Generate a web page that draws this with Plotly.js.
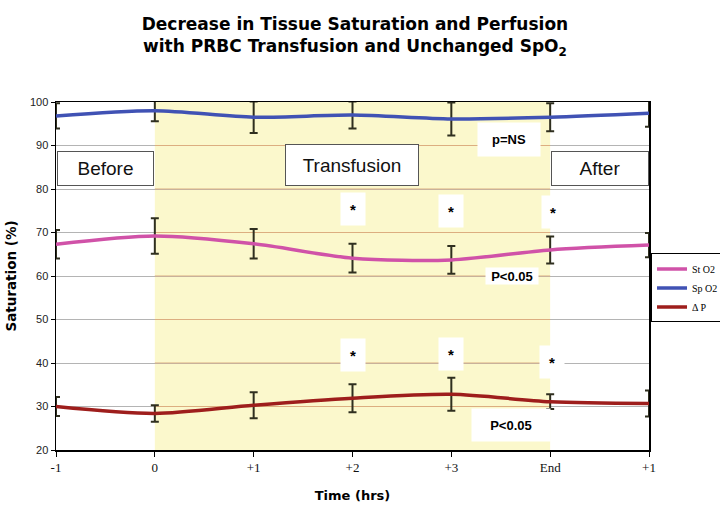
<!DOCTYPE html>
<html>
<head>
<meta charset="utf-8">
<script src="https://cdn.plot.ly/plotly-3.0.1.min.js"></script>
<style>html,body{margin:0;padding:0;background:#fff;}#chart{width:720px;height:518px;}</style>
</head>
<body>
<div id="chart"></div>
<script>
// Time points (category index) and their tick labels
const timeIndex = [0, 1, 2, 3, 4, 5, 6];
const timeLabels = ["-1", "0", "+1", "+2", "+3", "End", "+1"];

// Series values (%)
const stO2 = [67.3, 69.2, 67.4, 64.1, 63.7, 66.0, 67.1];
const stO2Err = [3.3, 4.1, 3.4, 3.3, 3.2, 3.1, 2.8];
const spO2 = [96.8, 98.0, 96.5, 97.0, 96.1, 96.5, 97.4];
const spO2Err = [2.9, 2.4, 3.6, 3.1, 3.8, 3.2, 3.1];
const deltaP = [30.0, 28.4, 30.3, 31.9, 32.8, 31.1, 30.7];
const deltaPErr = [2.2, 1.9, 3.0, 3.2, 3.8, 1.7, 3.0];

const yTicks = [20, 30, 40, 50, 60, 70, 80, 90, 100];
const gridValues = [30, 40, 50, 60, 70, 80, 90];

const errColor = "#2f2f1f";
function series(name, y, err, color) {
  return {
    type: "scatter", mode: "lines", name: name,
    x: timeIndex, y: y,
    line: {color: color, width: 3.5, shape: "spline", smoothing: 0.8},
    error_y: {type: "data", array: err, visible: true, color: errColor, thickness: 2, width: 4}
  };
}

const traces = [
  series("St O2", stO2, stO2Err, "#d052a8"),
  series("Sp O2", spO2, spO2Err, "#4052b4"),
  series("\u0394 P", deltaP, deltaPErr, "#9e1e1c")
];

const shapes = [
  {type: "rect", xref: "x", yref: "paper", x0: 1, x1: 5, y0: 0, y1: 1,
   fillcolor: "#fbf8cc", line: {width: 0}, layer: "below"}
];
gridValues.forEach(v => {
  shapes.push({type: "line", xref: "x", yref: "y", x0: 1, x1: 5, y0: v, y1: v,
    line: {color: "#dcae80", width: 1.2}, layer: "between"});
});

const boxFont = {family: "Liberation Sans, Arial, sans-serif", size: 19, color: "#111"};
const boldFont = {family: "Liberation Sans, Arial, sans-serif", size: 13, color: "#000", weight: "bold"};
const starFont = {family: "Liberation Sans, Arial, sans-serif", size: 15, color: "#000", weight: "bold"};

function box(text, x, y, w, h, font) {
  return {text: text, x: x, y: y, xref: "x", yref: "y", showarrow: false,
    width: w, height: h, bgcolor: "#fff", bordercolor: "#555", borderwidth: 1, borderpad: 0, font: font};
}
function plain(text, x, y, w, h, font) {
  return {text: text, x: x, y: y, xref: "x", yref: "y", showarrow: false,
    width: w, height: h, bgcolor: "#fff", borderpad: 0, font: font};
}

const annotations = [
  box("Before", 0.5, 84.7, 95, 33, boxFont),
  box("Transfusion", 2.99, 85.5, 132, 40, boxFont),
  box("After", 5.505, 84.7, 96, 33, boxFont),
  plain("p=NS", 4.584, 91.4, 62, 33, boldFont),
  plain("*", 3.0, 75.3, 24, 32, starFont),
  plain("*", 4.0, 75.0, 24, 32, starFont),
  plain("*", 5.03, 74.8, 22, 32, starFont),
  plain("P<0.05", 4.614, 59.9, 52, 16, boldFont),
  plain("*", 3.0, 41.8, 24, 32, starFont),
  plain("*", 4.0, 42.1, 24, 32, starFont),
  plain("*", 5.02, 40.3, 24, 32, starFont),
  plain("P<0.05", 4.60, 25.7, 78, 32, boldFont)
];

const layout = {
  width: 720, height: 518,
  margin: {l: 56, r: 71, t: 102, b: 68, autoexpand: false},
  paper_bgcolor: "#fff", plot_bgcolor: "rgba(0,0,0,0)",
  title: {
    text: "<b>Decrease in Tissue Saturation and Perfusion<br>with PRBC Transfusion and Unchanged SpO<sub>2</sub></b>",
    font: {family: "DejaVu Sans, Arial, sans-serif", size: 17, color: "#000"},
    x: 0.493, xanchor: "center", y: 0.942, yanchor: "top"
  },
  showlegend: true,
  legend: {
    x: 1.0034, xanchor: "left", y: 0.565, yanchor: "top",
    bgcolor: "#fff", bordercolor: "#000", borderwidth: 1,
    font: {family: "Liberation Serif, Times New Roman, serif", size: 10, color: "#000"},
    tracegroupgap: 0, itemwidth: 30
  },
  xaxis: {
    range: [0, 6], tickmode: "array", tickvals: timeIndex, ticktext: timeLabels,
    showgrid: false, zeroline: false,
    showline: true, linecolor: "#000", linewidth: 1.5, mirror: true,
    ticks: "outside", ticklen: 5, tickcolor: "#000", tickwidth: 1,
    tickfont: {family: "Liberation Serif, Times New Roman, serif", size: 13, color: "#111"},
    title: {text: "<b>Time (hrs)</b>", font: {family: "DejaVu Sans, Arial, sans-serif", size: 13, color: "#000"}, standoff: 17}
  },
  yaxis: {
    range: [20, 100], tickmode: "array", tickvals: yTicks,
    showgrid: true, gridcolor: "#b4b4b4", gridwidth: 1, zeroline: false,
    showline: true, linecolor: "#000", linewidth: 1.5, mirror: true,
    ticks: "outside", ticklen: 4, tickcolor: "#000",
    tickfont: {family: "Liberation Sans, Arial, sans-serif", size: 11, color: "#222"},
    title: {text: "<b>Saturation (%)</b>", font: {family: "DejaVu Sans, Arial, sans-serif", size: 13.5, color: "#000"}, standoff: 10}
  },
  shapes: shapes,
  annotations: annotations
};

Plotly.newPlot("chart", traces, layout, {displayModeBar: false, staticPlot: true});
</script>
</body>
</html>
